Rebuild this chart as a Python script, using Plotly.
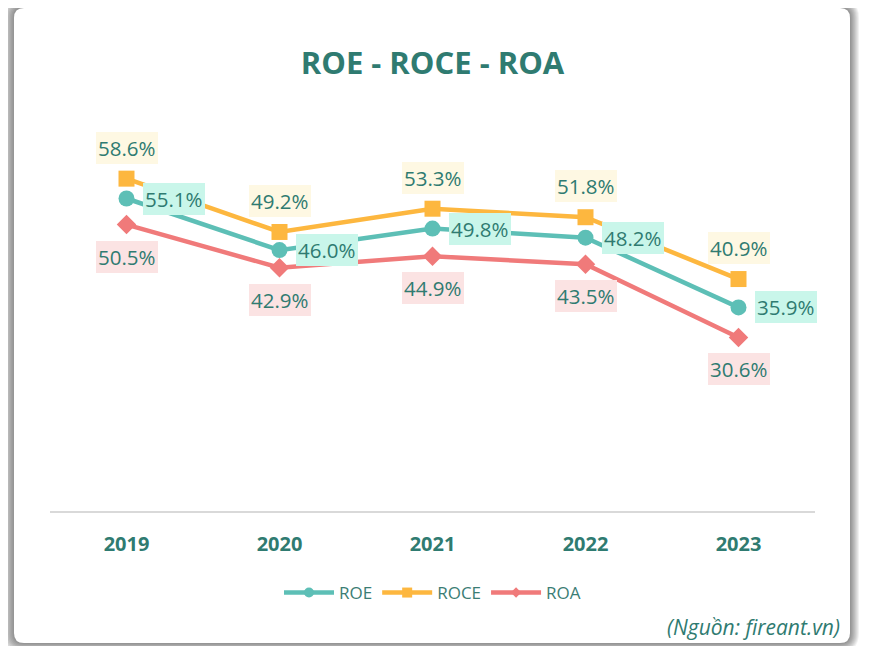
import plotly.graph_objects as go

# ---------------- data ----------------
years = ["2019", "2020", "2021", "2022", "2023"]
roe = [55.1, 46.0, 49.8, 48.2, 35.9]
roce = [58.6, 49.2, 53.3, 51.8, 40.9]
roa = [50.5, 42.9, 44.9, 43.5, 30.6]
title_text = "ROE - ROCE - ROA"
source_text = "(Nguồn: fireant.vn)"

# ---------------- styles ----------------
C_ROE, C_ROCE, C_ROA = "#5DBFB6", "#FDB73F", "#F07A7A"
BG_ROE, BG_ROCE, BG_ROA = "#C9F6EA", "#FEF8E3", "#FBE3E3"
TXT = "#2F7B71"
FONT = "Open Sans"

W, H = 871, 646
OFF = 8  # page body margin
L, R, T, B = 50 - OFF, W - 815 + OFF, 114 - OFF, H - 511 + OFF
pw, ph = W - L - R, H - T - B


def px(x):
    # x in screenshot pixels
    return (x - OFF - L) / pw


def py(y):
    return (H - B - (y - OFF)) / ph


def rrect(x0, y0, x1, y1, r):
    p = lambda x, y: f"{px(x):.5f},{py(y):.5f}"
    return (f"M {p(x0 + r, y0)} L {p(x1 - r, y0)} Q {p(x1, y0)} {p(x1, y0 + r)} "
            f"L {p(x1, y1 - r)} Q {p(x1, y1)} {p(x1 - r, y1)} "
            f"L {p(x0 + r, y1)} Q {p(x0, y1)} {p(x0, y1 - r)} "
            f"L {p(x0, y0 + r)} Q {p(x0, y0)} {p(x0 + r, y0)} Z")


series = [("ROE", roe, C_ROE, "circle", 16, 10),
          ("ROCE", roce, C_ROCE, "square", 16, 10),
          ("ROA", roa, C_ROA, "diamond", 15, 8)]

fig = go.Figure()
for name, vals, col, sym, msize, lsize in series:
    fig.add_trace(go.Scatter(x=years, y=vals, name=name, mode="lines+markers",
                             line=dict(color=col, width=4.5), showlegend=False,
                             marker=dict(symbol=sym, size=msize, color=col)))
for name, vals, col, sym, msize, lsize in series:
    # legend entry with smaller marker
    fig.add_trace(go.Scatter(x=[None], y=[None], name=name, mode="lines+markers",
                             line=dict(color=col, width=4.5),
                             marker=dict(symbol=sym, size=lsize, color=col)))

annotations = []
lab_font = dict(family=FONT, size=20.5, color=TXT)
for i, v in enumerate(roce):
    annotations.append(dict(x=i, y=v, xref="x", yref="y", text=f"{v:.1f}%", showarrow=False,
                            xanchor="center", yanchor="bottom", yshift=15,
                            bgcolor=BG_ROCE, borderpad=2, borderwidth=0, font=lab_font))
for i, v in enumerate(roe):
    annotations.append(dict(x=i, y=v, xref="x", yref="y", text=f"{v:.1f}%", showarrow=False,
                            xanchor="left", yanchor="middle", xshift=16,
                            bgcolor=BG_ROE, borderpad=2, borderwidth=0, font=lab_font))
for i, v in enumerate(roa):
    annotations.append(dict(x=i, y=v, xref="x", yref="y", text=f"{v:.1f}%", showarrow=False,
                            xanchor="center", yanchor="top", yshift=-16,
                            bgcolor=BG_ROA, borderpad=2, borderwidth=0, font=lab_font))
annotations.append(dict(x=px(842), y=py(627), xref="paper", yref="paper", text=f"<i>{source_text}</i>",
                        showarrow=False, xanchor="right", yanchor="middle",
                        font=dict(family=FONT, size=21, color=TXT)))

# card with soft shadow
shapes = []
for i in range(9, 0, -1):
    shapes.append(dict(type="path", xref="paper", yref="paper", layer="below",
                       path=rrect(14 - i * 1.4, 8 - i, 850 + i, 643 + i, 10 + i),
                       fillcolor="rgba(0,0,0,0.055)", line=dict(width=0)))
shapes.append(dict(type="path", xref="paper", yref="paper", layer="below",
                   path=rrect(14, 8, 850, 643, 10), fillcolor="white", line=dict(width=0)))

fig.update_layout(
    width=W, height=H,
    margin=dict(l=L, r=R, t=T, b=B),
    paper_bgcolor="white", plot_bgcolor="rgba(0,0,0,0)",
    title=dict(text=f"<b>{title_text}</b>", x=0.5, xanchor="center", xref="paper",
               y=1 - (63 - OFF) / H, yanchor="middle", yref="container",
               font=dict(family=FONT, size=31, color=TXT)),
    xaxis=dict(type="category", range=[-0.5, 4.5], showgrid=False, zeroline=False,
               showline=True, linecolor="#D9D9D9", linewidth=2,
               ticks="", ticklabelstandoff=14,
               tickfont=dict(family=FONT, size=20, color=TXT, weight="bold")),
    yaxis=dict(range=[0, 70], visible=False, showgrid=False, zeroline=False),
    showlegend=True,
    legend=dict(orientation="h", x=0.5, xanchor="center", y=py(593), yanchor="middle",
                font=dict(family=FONT, size=17, color="#3B7D74"), bgcolor="rgba(0,0,0,0)",
                itemwidth=50),
    annotations=annotations,
    shapes=shapes,
    hovermode=False,
)

fig.write_html("out.html")
